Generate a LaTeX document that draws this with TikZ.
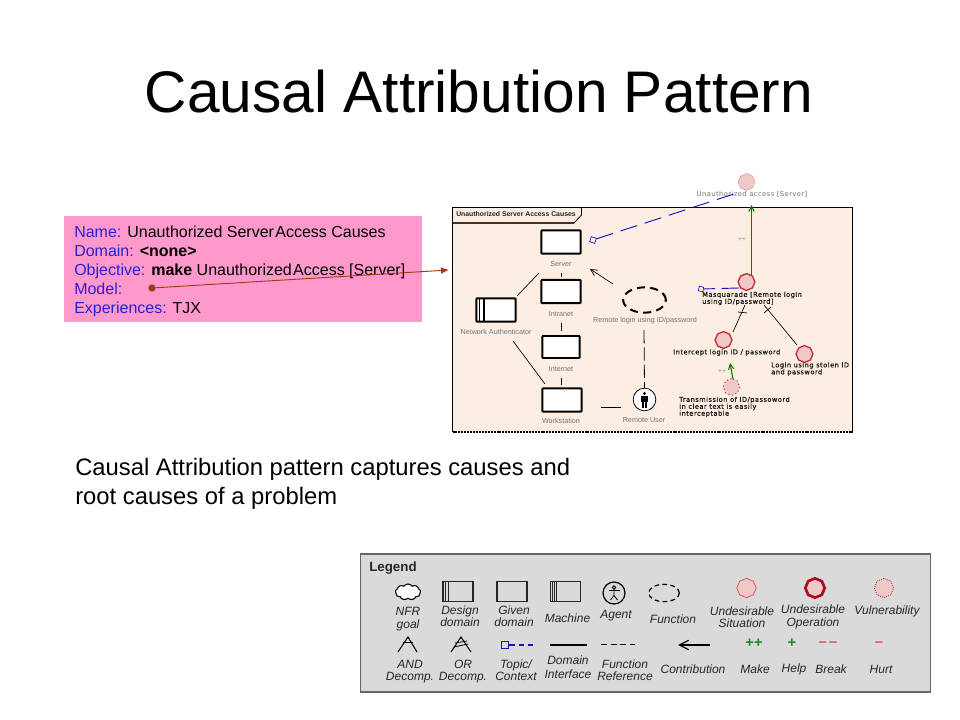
\documentclass[tikz,border=0pt]{standalone}
\usepackage{fontspec}
\setmainfont{Liberation Sans}
\newfontfamily\wfont[LetterSpace=6]{DejaVu Sans}
\newfontfamily\wfontb[LetterSpace=7,FakeBold=0.6]{DejaVu Sans}
\usetikzlibrary{shapes.geometric,shapes.symbols,arrows.meta}
\definecolor{pinkbox}{HTML}{FF99CC}
\definecolor{namblue}{HTML}{2A1FD6}
\definecolor{brownl}{HTML}{A03A14}
\definecolor{framefill}{HTML}{FDEEE3}
\definecolor{legfill}{HTML}{DADADA}
\definecolor{octfill}{HTML}{EFC9C7}
\definecolor{octred}{HTML}{C8283C}
\definecolor{darkred}{HTML}{B00A1E}
\definecolor{lgreen}{HTML}{1E8A2A}
\definecolor{lred}{HTML}{EE4455}
\definecolor{toplink}{HTML}{1A10C8}
\tikzset{
  dombox/.style={draw=black,line width=1.4pt,fill=white,rounded corners=0.5pt,minimum width=29.5pt,minimum height=17.5pt,inner sep=0pt,outer sep=0pt},
  legbox/.style={draw=black!85,line width=0.9pt,fill=none,minimum width=22.5pt,minimum height=14.5pt,inner sep=0pt,outer sep=0pt},
  glabel/.style={font=\fontsize{5.4}{5.8}\selectfont,text=black!55,inner sep=0pt,align=center},
  dlabel/.style={font=\wfontb\fontsize{5}{5.2}\selectfont,text=black!90,inner sep=0pt,align=left},
  leglabel/.style={font=\itshape\fontsize{9}{9.2}\selectfont,text=black!85,inner sep=0pt,align=center},
  oct/.style={regular polygon,regular polygon sides=8,shape border rotate=22.5,minimum size=12.6pt,inner sep=0pt,outer sep=0pt,fill=octfill},
  thinline/.style={draw=black,line width=0.5pt},
  fnline/.style={draw=black,line width=0.6pt,dash pattern=on 10pt off 3pt},
  linkline/.style={draw=toplink,line width=0.7pt,dash pattern=on 13pt off 6pt},
  greenarrow/.style={draw=green!50!black,line width=0.8pt,-{Straight Barb[length=4pt,width=4pt]}},
  contrib/.style={draw=black,line width=0.5pt,-{Straight Barb[length=5pt,width=5pt]}},
  plusg/.style={font=\fontsize{5}{5}\selectfont,text=black!45,inner sep=0pt},
  legsym/.style={font=\bfseries\fontsize{11}{11}\selectfont,inner sep=0pt}
}
\begin{document}
\begin{tikzpicture}[x=0.75pt,y=-0.75pt]
\useasboundingbox (0,0) rectangle (960,720);
\fill[white] (0,0) rectangle (960,720);

% title
\node[inner sep=0pt,font=\fontsize{44}{44}\selectfont] (title) at (479,92) {Causal Attribution Pattern};

% pink box
\node[fill=pinkbox,minimum width=268.5pt,minimum height=79.5pt,inner sep=0pt] (pink) at (243,269) {};
\node[anchor=north west,inner sep=0pt,align=left,font=\fontsize{12}{14.25}\selectfont] (pinktext) at (74,226) {%
\textcolor{namblue}{Name:} Unauthorized Server\hspace{1pt}Access Causes\\
\textcolor{namblue}{Domain:} \textbf{<none>}\\
\textcolor{namblue}{Objective:} \textbf{make} Unauthorized\hspace{1pt}Access [Server]\\
\textcolor{namblue}{Model:}\\
\textcolor{namblue}{Experiences:} TJX};

% explanatory text
\node[anchor=north west,inner sep=0pt,align=left,font=\fontsize{17.85}{21.7}\selectfont] (expl) at (75,458) {Causal Attribution pattern captures causes and\\root causes of a problem};

% model frame
\path[fill=framefill] (452.5,207.5) rectangle (852.5,432);
\draw[black,line width=0.8pt] (452.5,432) -- (452.5,207.5) -- (852.5,207.5) -- (852.5,432);
\draw[black,line width=1pt,dash pattern=on 1.5pt off 0.7pt] (452.5,432) -- (852.5,432);
\draw[black,line width=0.6pt] (581.5,207.5) -- (581.5,215) -- (574,223);
\draw[black!60!brown,line width=1pt] (452.5,223) -- (574,223);
\node[anchor=west,inner sep=0pt,font=\bfseries\fontsize{5.15}{6}\selectfont,text=black!85] (tab) at (456,214.5) {Unauthorized Server Access Causes};

% domains
\node[dombox] (server) at (561,242) {};
\node[dombox] (intranet) at (561,291.5) {};
\node[dombox,minimum width=28pt,minimum height=16.5pt] (internet) at (561,347) {};
\node[dombox] (workst) at (562,400) {};
\node[dombox] (netauth) at (496,310) {};
\draw[black,line width=1pt] ([xshift=2.2pt]netauth.north west) -- ([xshift=2.2pt]netauth.south west);
\draw[black,line width=1pt] ([xshift=5.8pt]netauth.north west) -- ([xshift=5.8pt]netauth.south west);
\node[glabel] (lserver) at (561,264) {Server};
\node[glabel] (lintranet) at (561,314) {Intranet};
\node[glabel] (linternet) at (561,369) {Internet};
\node[glabel] (lworkst) at (561,421) {Workstation};
\node[glabel] (lnetauth) at (496,332) {Network Authenticator};
\node[glabel] (lremote) at (645,321) {Remote login using ID/password};
\node[glabel] (luser) at (644,420) {Remote User};

% interfaces
\coordinate (c1) at (539,273); \coordinate (c2) at (517,296);
\coordinate (c3) at (513,341); \coordinate (c4) at (545,384);
\coordinate (c5) at (621,407); \coordinate (c6) at (601,407);
\draw[thinline] (c1) -- (c2);
\draw[thinline] (c3) -- (c4);
\draw[thinline] (c5) -- (c6);
\coordinate (c7) at (561,273); \coordinate (c8) at (561,277);
\coordinate (c9) at (561,323); \coordinate (c9b) at (561,331);
\coordinate (c10) at (561,378); \coordinate (c10b) at (561,385);
\draw[thinline] (c7) -- (c8);
\draw[thinline] (c9) -- (c9b);
\draw[thinline] (c10) -- (c10b);

% function & agent
\node[ellipse,draw=black,line width=1.5pt,dash pattern=on 6pt off 4pt,minimum width=32pt,minimum height=19pt,inner sep=0pt] (fn) at (644.5,300) {};
\node[circle,draw=black,line width=0.6pt,fill=white,minimum size=17pt,inner sep=0pt] (user) at (644.5,399.5) {};
\fill[black] (644.5,393.5) circle (1.7);
\fill[black] (641.3,396) rectangle (647.7,401.5);
\fill[black] (642.2,401.5) rectangle (644,408);
\fill[black] (645,401.5) rectangle (646.8,408);
\coordinate (c11) at (644,330);
\draw[fnline] (c11) -- (user.north);
\coordinate (c12) at (613,284); \coordinate (c13) at (590,269);
\draw[contrib] (c12) -- (c13);

% goals
\node[oct,draw=octred!30!octfill] (uaccess) at (746.5,182) {};
\node[font=\wfont\fontsize{5.1}{5}\selectfont,text=black!55,inner sep=0pt] (luaccess) at (752,194) {Unauthorized access [Server]};
\node[oct,draw=octred,line width=1pt] (masq) at (746.5,282) {};
\node[oct,draw=octred,line width=1pt] (interc) at (723.5,340) {};
\node[oct,draw=octred,line width=1pt] (login) at (804.5,354) {};
\node[oct,draw=octred,line width=0.8pt,dotted] (vuln) at (731.5,387) {};
\node[dlabel,anchor=north west] (lmasq) at (702,291.5) {Masquarade [Remote login\\using ID/password]};
\node[dlabel,anchor=west] (linterc) at (673,352.5) {Intercept login ID / password};
\node[dlabel,anchor=north west] (llogin) at (771,362) {Login using stolen ID\\and password};
\node[dlabel,anchor=north west] (lvuln) at (679,396.5) {Transmission of ID/passoword\\in clear text is easily\\interceptable};

% contributions
\coordinate (g1) at (751.5,275); \coordinate (g2) at (751.5,205);
\draw[greenarrow] (g1) -- (g2);
\coordinate (g3) at (733,379); \coordinate (g4) at (730,363);
\draw[greenarrow] (g3) -- (g4);
\node[plusg] (pp1) at (742,240) {++};
\node[plusg] (pp2) at (722,372) {++};

% decomposition
\coordinate (d1) at (733,332); \coordinate (d2) at (745,305);
\draw[thinline] (d1) -- (d2);
\coordinate (d3) at (797,345); \coordinate (d4) at (764,305);
\draw[thinline] (d3) -- (d4);
\coordinate (b1) at (738,312); \coordinate (b2) at (747,313);
\draw[thinline] (b1) -- (b2);
\coordinate (b3) at (764,313); \coordinate (b4) at (771,307);
\draw[thinline] (b3) -- (b4);

% topic links
\node[draw=toplink,line width=0.5pt,minimum size=4pt,inner sep=0pt,rotate=-18] (t1) at (593,240) {};
\coordinate (t1e) at (737,193);
\draw[linkline] (t1) -- (t1e);
\node[draw=toplink,line width=0.5pt,minimum size=3.4pt,inner sep=0pt,rotate=-10] (t2) at (701,289) {};
\coordinate (t2e) at (739,288);
\draw[linkline,dash pattern=on 13pt off 5pt] (t2e) -- (t2);

% brown pointer
\node[circle,fill=brownl,minimum size=5.5pt,inner sep=0pt] (dot) at (152,288) {};
\coordinate (arrowend) at (449,270);
\draw[brownl,line width=0.7pt,-{Latex[length=6pt,width=5pt]}] (dot) -- (arrowend);

% ===== legend =====
\node[draw=black!60,line width=0.8pt,fill=legfill,minimum width=427pt,minimum height=103.5pt,inner sep=0pt] (legend) at (645.5,623) {};
\node[anchor=west,inner sep=0pt,font=\bfseries\fontsize{10}{10}\selectfont,text=black!85] (leg) at (369,568.5) {Legend};

\node[cloud,cloud puffs=9,cloud puff arc=110,draw=black,line width=0.8pt,fill=white,minimum width=19pt,minimum height=12pt,inner sep=0pt,aspect=1.6] (cloudn) at (408,592) {};
\node[leglabel] (lnfr) at (408,619) {NFR\\goal};

\node[legbox] (ldes) at (458,591.5) {};
\draw[black!85,line width=0.7pt] ([xshift=2.2pt]ldes.north west) -- ([xshift=2.2pt]ldes.south west);
\draw[black!85,line width=0.7pt] ([xshift=4.4pt]ldes.north west) -- ([xshift=4.4pt]ldes.south west);
\node[leglabel] (tdes) at (460,616) {Design\\domain};

\node[legbox] (lgiv) at (512,591.5) {};
\node[leglabel] (tgiv) at (514,616) {Given\\domain};

\node[legbox] (lmac) at (565.5,591.5) {};
\foreach \d in {1.4,2.8,4.2}{\draw[black!85,line width=0.6pt] ([xshift=\d pt]lmac.north west) -- ([xshift=\d pt]lmac.south west);}
\node[leglabel] (tmac) at (567.5,618) {Machine};

\node[circle,draw=black,line width=0.9pt,minimum size=16.5pt,inner sep=0pt] (lag) at (614,593) {};
\draw[black,line width=0.6pt] (614,587.5) circle (1.8);
\draw[black,line width=0.6pt] (614,589.3) -- (614,595.5) -- (610.5,600);
\draw[black,line width=0.6pt] (614,595.5) -- (617.5,600);
\draw[black,line width=0.6pt] (608.5,590.5) -- (619.5,590.5);
\node[leglabel] (tag) at (616,616) {Agent};

\node[ellipse,draw=black,line width=0.9pt,dash pattern=on 3.5pt off 2.5pt,minimum width=23pt,minimum height=13pt,inner sep=0pt] (lfn) at (664,593) {};
\node[leglabel] (tfn) at (673,619) {Function};

\node[oct,draw=octred!70!pink,line width=0.6pt,minimum size=14.5pt] (lus) at (746.5,588) {};
\node[leglabel] (tus) at (742,617) {Undesirable\\Situation};
\node[oct,draw=darkred,line width=2pt,minimum size=14.5pt,fill=octfill] (luo) at (815,588) {};
\node[leglabel] (tuo) at (813,617) {Undesirable\\Operation};
\node[oct,draw=octred!80!black,line width=0.6pt,densely dotted,minimum size=14.5pt] (lvu) at (884,588) {};
\node[leglabel] (tvu) at (887,611) {Vulnerability};

% row 2
\coordinate (an) at (408,637); \coordinate (an1) at (398,652); \coordinate (an2) at (417,652);
\draw[black,line width=0.8pt] (an1) -- (an) -- (an2);
\draw[black,line width=0.6pt] (403,642) -- (412.5,642);
\node[leglabel] (tand) at (410,671.5) {AND\\Decomp.};

\coordinate (or) at (461,637); \coordinate (or1) at (451,652); \coordinate (or2) at (471,652);
\draw[black,line width=0.8pt] (or1) -- (or) -- (or2);
\draw[black,line width=0.6pt] (455,643) -- (467,641);
\draw[black,line width=0.6pt] (454,647) -- (468,644);
\node[leglabel] (tor) at (463,671.5) {OR\\Decomp.};

\node[draw=toplink,line width=1pt,minimum size=5.5pt,inner sep=0pt] (ltop) at (505,645) {};
\coordinate (ltope) at (533,645);
\draw[toplink,line width=0.8pt,dash pattern=on 4pt off 3pt] (ltop) -- (ltope);
\node[leglabel] (ttop) at (516,670) {Topic/\\Context};

\coordinate (i1) at (550,645); \coordinate (i2) at (587,645);
\draw[black,line width=0.9pt] (i1) -- (i2);
\node[leglabel,align=center,font=\itshape\fontsize{9}{10.5}\selectfont] (tint) at (568,667) {Domain\\Interface};

\coordinate (f1) at (601,644.5); \coordinate (f2) at (635,644.5);
\draw[black,line width=1.1pt,dash pattern=on 4.5pt off 2.7pt] (f1) -- (f2);
\node[leglabel] (tfr) at (625,670.5) {Function\\Reference};

\coordinate (k1) at (710,645); \coordinate (k2) at (678,645);
\draw[black,line width=0.9pt,-{Straight Barb[length=7pt,width=7pt]}] (k1) -- (k2);
\node[leglabel] (tcon) at (693,669) {Contribution};

\node[legsym,text=lgreen] (smk) at (754,643) {++};
\node[leglabel] (tmk) at (755,669) {Make};
\node[legsym,text=lgreen] (shp) at (792,643) {+};
\node[leglabel] (thp) at (794,669) {Help};
\node[legsym,text=lred] (sbk) at (828,644) {–\,–};
\node[leglabel] (tbk) at (831,669) {Break};
\node[legsym,text=lred] (sht) at (879,644) {–};
\node[leglabel] (tht) at (881,669) {Hurt};
\end{tikzpicture}
\end{document}
